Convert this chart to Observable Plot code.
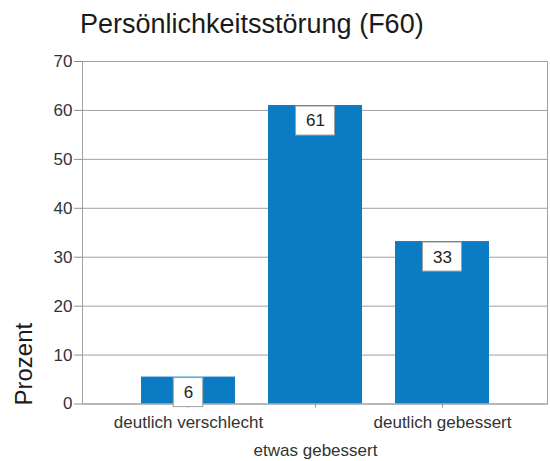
<!DOCTYPE html>
<html>
<head>
<meta charset="utf-8">
<script src="https://cdn.jsdelivr.net/npm/d3@7"></script>
<script src="https://cdn.jsdelivr.net/npm/@observablehq/plot@0.6"></script>
<style>
  html, body { margin: 0; padding: 0; background: #fff; }
  #wrap { position: relative; width: 550px; height: 461px; font-family: "Liberation Sans", Arial, sans-serif; }
  #title { position: absolute; left: 80px; top: 11px; font-size: 27px; line-height: 27px; color: #1a1a1a; white-space: nowrap; }
  #chart { position: absolute; left: 0; top: 40px; }
</style>
</head>
<body>
<div id="wrap">
  <div id="title">Persönlichkeitsstörung (F60)</div>
  <div id="chart"></div>
</div>
<script>
const categories = ["deutlich verschlecht", "etwas gebessert", "deutlich gebessert"];
const values = [5.5, 61, 33.2];
const valueLabels = ["6", "61", "33"];
const yTicks = [0, 10, 20, 30, 40, 50, 60, 70];
const yLabel = "Prozent";

const data = categories.map((c, i) => ({cat: c, value: values[i], label: valueLabels[i]}));
const font = "Liberation Sans, Arial, sans-serif";
const labelSize = 17;

// white boxed value labels, positioned through the x and y scales
function boxedLabels(index, scales, vals, dims, context, next) {
  const g = next(index, scales, vals, dims, context);
  const sx = scales.x, sy = scales.y;
  const bw = typeof sx.bandwidth === "function" ? sx.bandwidth() : (sx.bandwidth || 0);
  const boxes = d3.create("svg:g");
  for (const i of index) {
    const d = data[i];
    const cx = sx(d.cat) + bw / 2;
    const cy = sy(d.value) + 15.5;
    const w = d.label.length * 0.556 * labelSize + 20;
    const h = 29;
    boxes.append("rect")
      .attr("x", cx - w / 2).attr("y", cy - h / 2)
      .attr("width", w).attr("height", h)
      .attr("fill", "#fff").attr("stroke", "#a0a0a0").attr("stroke-width", 1);
  }
  const wrap = d3.create("svg:g");
  wrap.append(() => boxes.node());
  wrap.append(() => g);
  return wrap.node();
}

const plot = Plot.plot({
  width: 550,
  height: 421,
  marginTop: 21,
  marginBottom: 57.5,
  marginLeft: 82,
  marginRight: 3,
  style: {fontFamily: font, background: "#fff"},
  x: {domain: categories, paddingInner: 0.26, paddingOuter: 0.4535, align: 0.5, axis: null},
  y: {domain: [0, 70], axis: null},
  marks: [
    Plot.ruleY(yTicks, {stroke: "#a0a0a0", strokeWidth: 1}),
    Plot.barY(data, {x: "cat", y: "value", fill: "#0b7bc3"}),
    Plot.frame({stroke: "#a0a0a0", strokeWidth: 1}),
    Plot.axisY({ticks: yTicks, tickSize: 8, tickPadding: 2, fontSize: 17, stroke: "#909090", fill: "#333", label: null}),
    Plot.axisX({ticks: [categories[0], categories[2]], tickSize: 4, tickPadding: 7.5, fontSize: 17, stroke: "#909090", fill: "#333", label: null}),
    Plot.axisX({ticks: [categories[1]], tickSize: 4, tickPadding: 35.5, fontSize: 17, stroke: "#909090", fill: "#333", label: null}),
    Plot.text(data, {x: "cat", y: "value", text: "label", dy: 15.5, fontSize: labelSize, fill: "#222", render: boxedLabels}),
    Plot.text([yLabel], {frameAnchor: "bottom-left", rotate: -90, textAnchor: "start", lineAnchor: "middle", dx: -58, dy: 1.5, fontSize: 24, fill: "#1a1a1a"})
  ]
});

document.getElementById("chart").appendChild(plot);
</script>
</body>
</html>
